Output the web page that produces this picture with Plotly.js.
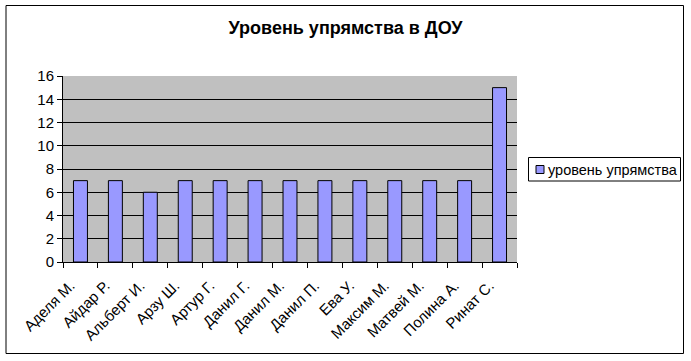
<!DOCTYPE html>
<html><head><meta charset="utf-8">
<script src="https://cdn.plot.ly/plotly-3.0.1.min.js"></script>
<style>html,body{margin:0;padding:0;background:#fff}#chart{width:691px;height:361px}</style>
</head><body><div id="chart"></div>
<script>
const categories = ["Аделя М.","Айдар Р.","Альберт И.","Арзу Ш.","Артур Г.","Данил Г.","Данил М.","Данил П.","Ева У.","Максим М.","Матвей М.","Полина А.","Ринат С."];
const values = [7,7,6,7,7,7,7,7,7,7,7,7,15];
const seriesName = "уровень упрямства";
const titleText = "Уровень упрямства в ДОУ";
const yTicks = [0,2,4,6,8,10,12,14,16];

const font = "Liberation Sans, Arial, sans-serif";
// pixel -> paper helpers (plot area 63..517 x, 76..262 y)
const px = v => (v - 63) / 454;
const py = v => (262 - v) / 186;
Plotly.newPlot("chart", [{
  type: "bar", x: categories, y: values, name: seriesName,
  marker: {color: "#9999FF", line: {color: "#000", width: 1}},
  showlegend: false
}], {
  width: 691, height: 361,
  margin: {l: 63, r: 174, t: 76, b: 99, pad: 0},
  paper_bgcolor: "#fff", plot_bgcolor: "#C0C0C0",
  bargap: 0.6,
  font: {family: font, color: "#000"},
  showlegend: false,
  title: {text: "<b>" + titleText + "</b>", font: {size: 18, family: font, color: "#000"},
          x: 0.5, xref: "container", xanchor: "center", y: 1 - 28/361, yref: "container", yanchor: "middle"},
  xaxis: {type: "category", tickangle: -45, tickfont: {size: 15}, ticks: "outside", tickson: "boundaries",
          ticklen: 5, tickcolor: "#000", showline: true, linecolor: "#000", linewidth: 1,
          ticklabelstandoff: 8, ticklabelshift: -10,
          showgrid: false, fixedrange: true, automargin: false},
  yaxis: {range: [0, 16], tickvals: yTicks, ticks: "outside", ticklen: 5, tickcolor: "#000",
          tickfont: {size: 15}, showline: true, linecolor: "#000", linewidth: 1,
          showgrid: true, gridcolor: "#000", gridwidth: 1, zeroline: false, automargin: false},
  annotations: [{text: seriesName, xref: "paper", yref: "paper", x: px(546), y: py(169.5),
                 xanchor: "left", yanchor: "middle", showarrow: false, font: {size: 14.5, family: font, color: "#000"}}],
  shapes: [
    {type: "rect", xref: "paper", yref: "paper",
     x0: px(6), x1: px(683.5), y0: py(353.5), y1: py(5.5),
     line: {color: "#000", width: 1}, fillcolor: "rgba(0,0,0,0)", layer: "below"},
    {type: "rect", xref: "paper", yref: "paper",
     x0: px(528.5), x1: px(680.5), y0: py(181), y1: py(157.5),
     line: {color: "#000", width: 1}, fillcolor: "#fff", layer: "below"},
    {type: "rect", xref: "paper", yref: "paper",
     x0: px(536), x1: px(544), y0: py(173.5), y1: py(165.5),
     line: {color: "#000", width: 1}, fillcolor: "#9999FF", layer: "above"}
  ]
}, {staticPlot: true});
</script></body></html>
